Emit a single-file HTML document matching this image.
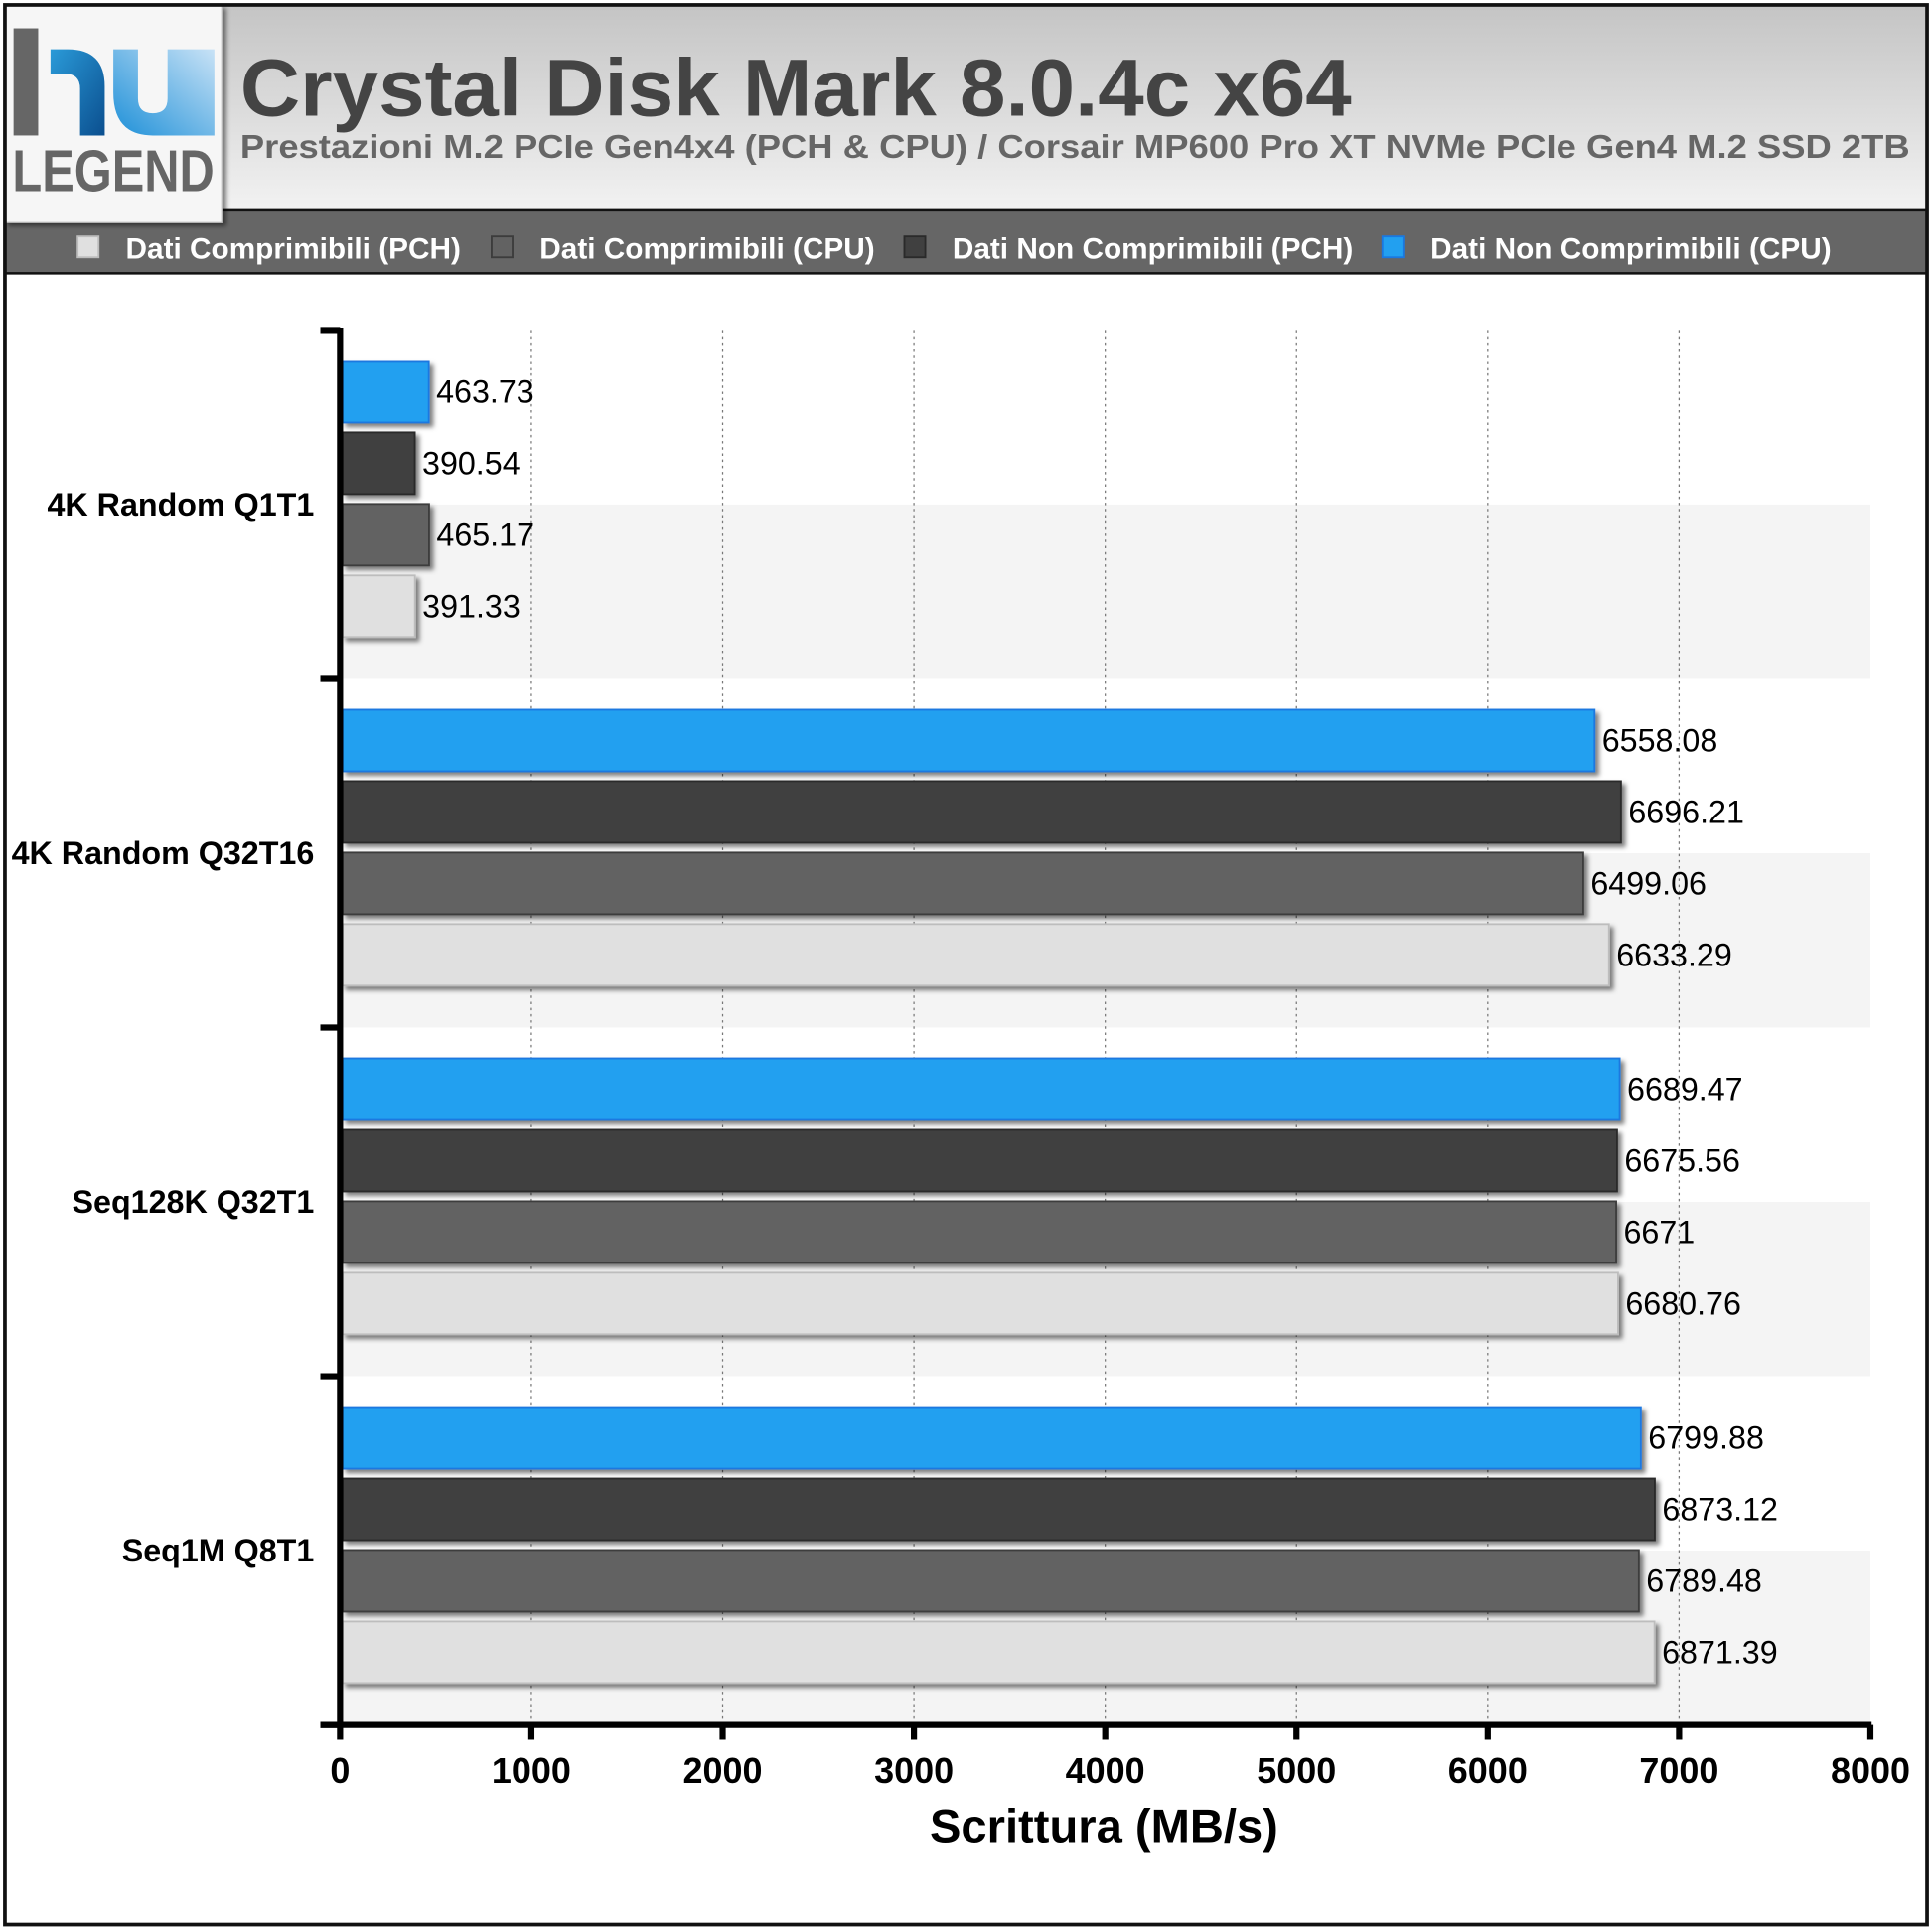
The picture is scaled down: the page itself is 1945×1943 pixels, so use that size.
<!DOCTYPE html>
<html><head><meta charset="utf-8"><style>
html,body{margin:0;padding:0;background:#fff}
svg{display:block;font-family:"Liberation Sans",sans-serif}
</style></head><body>
<svg id="chart" width="1945" height="1943" viewBox="0 0 1568 1566.4" preserveAspectRatio="none" xmlns="http://www.w3.org/2000/svg">
<defs>
<linearGradient id="hdr" x1="0" y1="0" x2="0" y2="1"><stop offset="0" stop-color="#c4c4c4"/><stop offset="1" stop-color="#f2f2f2"/></linearGradient>
<linearGradient id="lg1" x1="0" y1="0" x2="1" y2="1"><stop offset="0" stop-color="#2a9ad8"/><stop offset="1" stop-color="#0b4f8f"/></linearGradient>
<linearGradient id="lg2" x1="0" y1="1" x2="1" y2="0"><stop offset="0" stop-color="#1e90d8"/><stop offset="1" stop-color="#c8e2f6"/></linearGradient>
<filter id="sh" x="-10%" y="-10%" width="130%" height="130%"><feDropShadow dx="3" dy="3" stdDeviation="2" flood-opacity="0.5"/></filter>
</defs>
<rect x="0" y="0" width="1568" height="1566.4" fill="#fff"/>
<rect x="4" y="4" width="1560" height="166" fill="url(#hdr)"/>
<rect x="4" y="170" width="1560" height="52" fill="#666"/>
<line x1="4" y1="170" x2="1564" y2="170" stroke="#111" stroke-width="2"/>
<line x1="4" y1="222" x2="1564" y2="222" stroke="#111" stroke-width="2"/>
<g filter="url(#sh)">
<rect x="4" y="4" width="176" height="176" fill="#f6f6f6" stroke="#bbb"/>
</g>
<rect x="11" y="23" width="20" height="87" fill="#666"/>
<path d="M41 40 h14 q30 0 30 30 v40 h-20 v-38 q0-12-12-12 h-12z" fill="url(#lg1)"/>
<path d="M92 40 h20 v40 q0 12 12 12 q12 0 12-12 v-40 h38 v70 h-50 q-32 0-32-35z" fill="url(#lg2)"/>
<text x="10" y="155" font-size="48" font-weight="bold" fill="#666" textLength="164" lengthAdjust="spacingAndGlyphs">LEGEND</text>
<text x="195" y="94" font-size="66" font-weight="bold" fill="#444" textLength="902" lengthAdjust="spacingAndGlyphs">Crystal Disk Mark 8.0.4c x64</text>
<text x="195" y="128" font-size="27" font-weight="bold" fill="#666" textLength="1355" lengthAdjust="spacingAndGlyphs">Prestazioni M.2 PCIe Gen4x4 (PCH &amp; CPU) / Corsair MP600 Pro XT NVMe PCIe Gen4 M.2 SSD 2TB</text>
<g id="legend"></g>
<g id="plot"></g>
<rect x="4" y="4" width="1560" height="1558" fill="none" stroke="#111" stroke-width="3"/>
</svg>
<script>
const categories=["4K Random Q1T1","4K Random Q32T16","Seq128K Q32T1","Seq1M Q8T1"];
const seriesNames=["Dati Non Comprimibili (CPU)","Dati Non Comprimibili (PCH)","Dati Comprimibili (CPU)","Dati Comprimibili (PCH)"];
const ncCPU=[463.73,6558.08,6689.47,6799.88];
const ncPCH=[390.54,6696.21,6675.56,6873.12];
const cCPU=[465.17,6499.06,6671,6789.48];
const cPCH=[391.33,6633.29,6680.76,6871.39];
const xTicks=[0,1000,2000,3000,4000,5000,6000,7000,8000];
const seriesVals=[ncCPU,ncPCH,cCPU,cPCH];
const fills=["#22a0f0","#404040","#626262","#e0e0e0"];
const strokes=["#1a78e0","#2a2a2a","#3c3c3c","#bdbdbd"];
const NS="http://www.w3.org/2000/svg";
const X0=276,X1=1518,Y0=268,Y1=1400,XMAX=8000;
const xs=v=>X0+(X1-X0)*v/XMAX;
const catH=(Y1-Y0)/categories.length;
function mk(tag,attrs,parent,txt){const e=document.createElementNS(NS,tag);for(const k in attrs)e.setAttribute(k,attrs[k]);if(txt!=null)e.textContent=txt;parent.appendChild(e);return e;}
const plot=document.getElementById('plot');
for(let i=0;i<categories.length*2;i++){
  const b=mk('rect',{x:X0,y:Y0+i*catH/2,width:X1-X0,height:catH/2,fill:i%2?"#f4f4f4":"#fff"},plot);
  
  
}
xTicks.forEach(t=>{
  if(t>0&&t<XMAX){const g=mk('line',{x1:xs(t),x2:xs(t),y1:Y0,y2:Y1,stroke:"#777","stroke-width":1,"stroke-dasharray":"2,3"},plot);
  
  }
  const tk=mk('line',{x1:xs(t),x2:xs(t),y1:Y1,y2:Y1+12,stroke:"#000","stroke-width":5},plot);
  
  
  const lb=mk('text',{x:xs(t),y:1447,"font-size":29,"font-weight":"bold","text-anchor":"middle",fill:"#000"},plot,String(t));
  
  
});
categories.forEach((c,ci)=>{
  const top=Y0+ci*catH;
  seriesVals.forEach((arr,si)=>{
    const y=top+25+si*58;
    const r=mk('rect',{x:X0+2,y:y,width:xs(arr[ci])-X0-2,height:50,fill:fills[si],stroke:strokes[si],"stroke-width":1.5,filter:"url(#sh)"},plot);
    
    
    const t=mk('text',{x:xs(arr[ci])+6,y:y+34,"font-size":26,fill:"#000"},plot,String(arr[ci]));
    
    
  });
  const cl=mk('text',{x:255,y:top+catH/2+9,"font-size":26,"font-weight":"bold","text-anchor":"end",fill:"#000"},plot,c);
  
  
});
for(let i=0;i<=categories.length;i++){
  const tk=mk('line',{x1:260,x2:X0,y1:Y0+i*catH,y2:Y0+i*catH,stroke:"#000","stroke-width":5},plot);
  
  
}
const ya=mk('line',{x1:X0,x2:X0,y1:Y0-2,y2:Y1+2,stroke:"#000","stroke-width":5},plot);


const xa=mk('line',{x1:260,x2:X1+1,y1:Y1,y2:Y1,stroke:"#000","stroke-width":5},plot);


const xt=mk('text',{x:896,y:1495,"font-size":38,"font-weight":"bold","text-anchor":"middle",fill:"#000"},plot,"Scrittura (MB/s)");


const leg=document.getElementById('legend');
const legOrder=[3,2,1,0];
const sqX=[63,399,734,1122];
legOrder.forEach((si,k)=>{
  const s=mk('rect',{x:sqX[k],y:192,width:17,height:17,fill:fills[si],stroke:strokes[si],"stroke-width":1.5},leg);
  
  
  const t=mk('text',{x:sqX[k]+39,y:210,"font-size":24,"font-weight":"bold",fill:"#fff"},leg,seriesNames[si]);
  
  
});
</script>
</body></html>
